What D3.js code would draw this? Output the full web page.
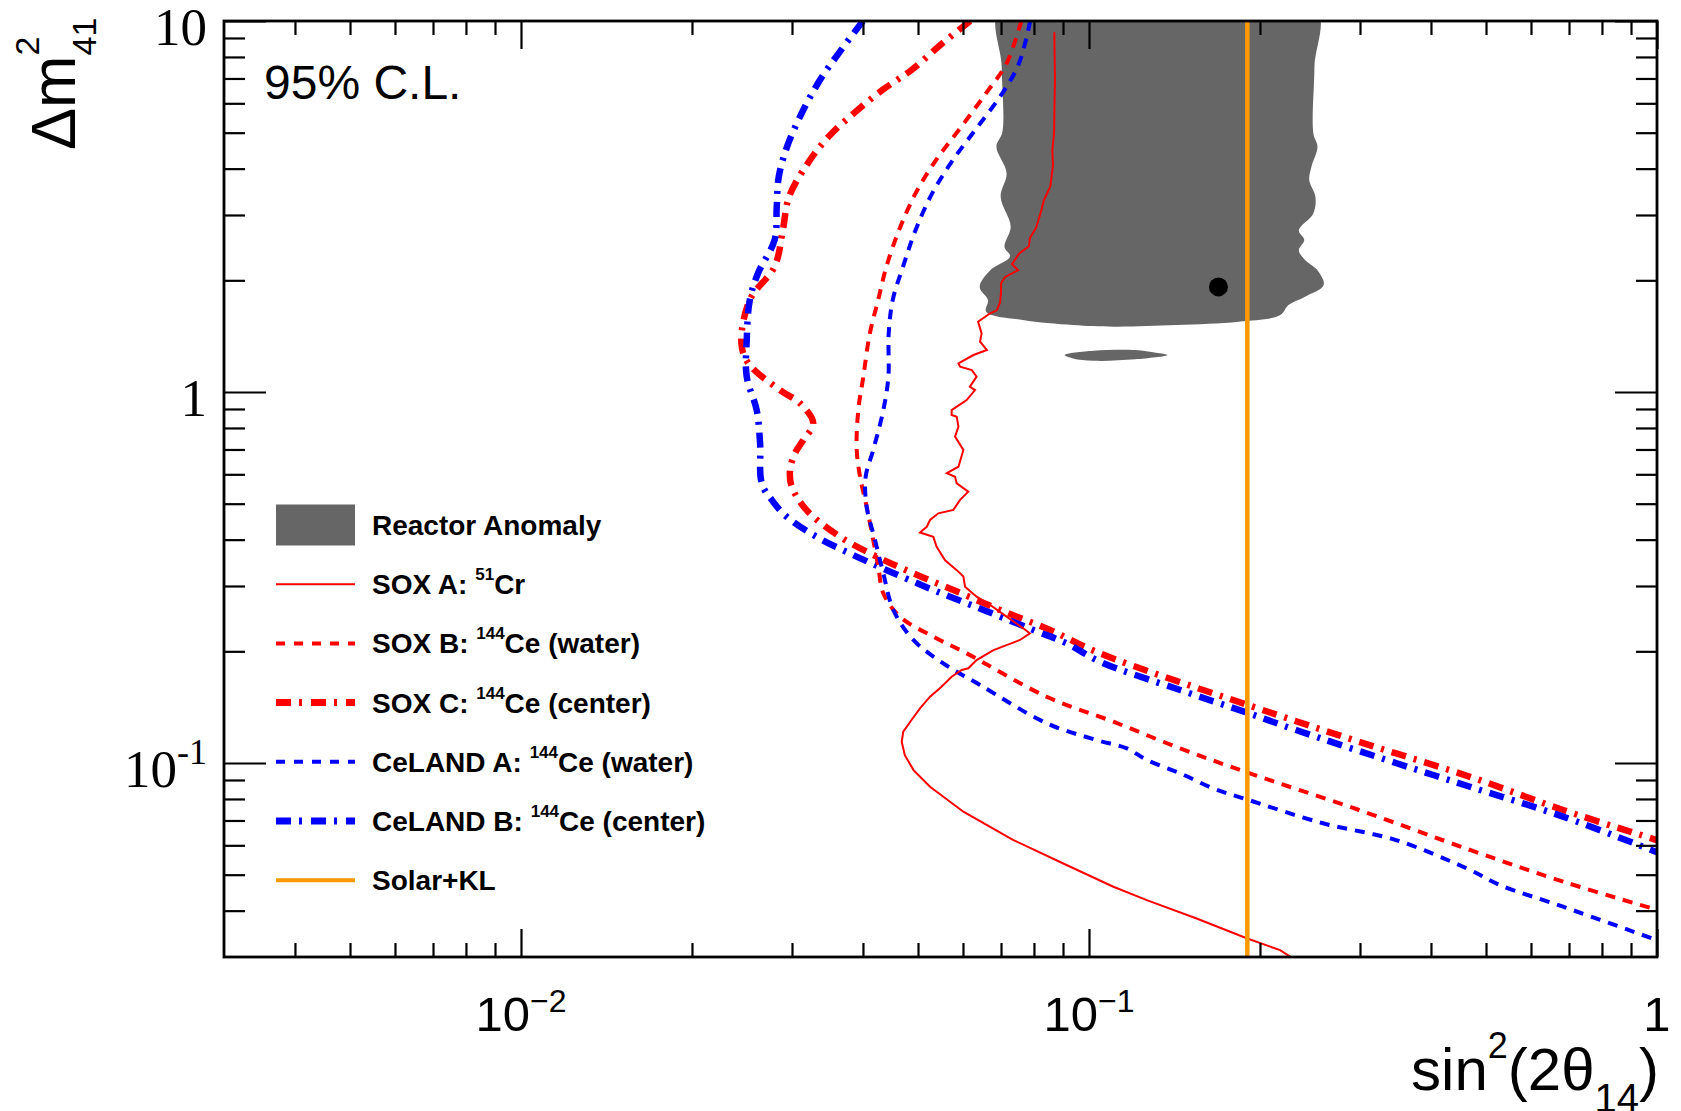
<!DOCTYPE html>
<html>
<head>
<meta charset="utf-8">
<script src="https://cdnjs.cloudflare.com/ajax/libs/d3/7.8.5/d3.min.js"></script>
<style>
    body { margin: 0; background: #fff; }
    svg { display: block; }
    text { white-space: pre; }
</style>
</head>
<body>
<div id="chart"></div>
<script>
// [sin^2(2theta14), dm2_41] pairs
var reactorAnomaly = [
    [0.0701, 11], [0.0702, 7.5], [0.0704, 5.03], [0.0687, 4.58], [0.0716, 3.89], [0.0699, 3.36],
    [0.0728, 2.79], [0.0710, 2.46], [0.0726, 2.32], [0.0670, 2.13], [0.0642, 1.92], [0.0664, 1.77],
    [0.0659, 1.646], [0.0765, 1.563], [0.0937, 1.515], [0.1107, 1.500], [0.1426, 1.515], [0.1835, 1.547],
    [0.2171, 1.612], [0.2245, 1.716], [0.2401, 1.807], [0.2589, 1.943], [0.2525, 2.13], [0.2401, 2.27],
    [0.2341, 2.41], [0.2393, 2.57], [0.2341, 2.73], [0.2483, 3.03], [0.2504, 3.36], [0.2442, 3.73],
    [0.2464, 4.05], [0.2525, 4.58], [0.2483, 4.98], [0.2494, 7.5], [0.2496, 11]
];

var reactorIsland = [
    [0.0906, 1.258], [0.1019, 1.292], [0.1206, 1.298], [0.1312, 1.276], [0.1375, 1.258],
    [0.1206, 1.225], [0.1019, 1.214], [0.0937, 1.232]
];

var bestFit = [0.169, 1.92];
var solarKL = 0.19;

var soxA = [
    [0.0869, 9.32], [0.0871, 6.93], [0.0868, 4.99], [0.0862, 4.49], [0.0864, 4.09], [0.0855, 3.58],
    [0.0833, 3.29], [0.0823, 3.06], [0.0807, 2.77], [0.0787, 2.60], [0.0784, 2.47], [0.0753, 2.36],
    [0.0732, 2.21], [0.0750, 2.13], [0.0711, 2.04], [0.0700, 1.96], [0.0700, 1.85], [0.0697, 1.74],
    [0.0688, 1.66], [0.0670, 1.63], [0.0638, 1.547], [0.0647, 1.439], [0.0643, 1.367], [0.0661, 1.298],
    [0.0626, 1.258], [0.0589, 1.195], [0.0593, 1.170], [0.0622, 1.146], [0.0634, 1.10], [0.0617, 1.033],
    [0.0630, 1.012], [0.0609, 0.951], [0.0573, 0.894], [0.0573, 0.867], [0.0585, 0.858], [0.0589, 0.806],
    [0.0581, 0.758], [0.0601, 0.698], [0.0589, 0.629], [0.0562, 0.604], [0.0581, 0.591], [0.0585, 0.567],
    [0.0613, 0.539], [0.0593, 0.512], [0.0577, 0.481], [0.0543, 0.471], [0.0525, 0.452], [0.0518, 0.433],
    [0.0504, 0.418], [0.0532, 0.407], [0.0539, 0.383], [0.0558, 0.352], [0.0585, 0.331], [0.0601, 0.318],
    [0.0605, 0.2987], [0.0634, 0.2807], [0.0670, 0.2666], [0.0716, 0.248], [0.0766, 0.2307], [0.0787, 0.2236],
    [0.0756, 0.2146], [0.0679, 0.2016], [0.0634, 0.1895], [0.0613, 0.180], [0.0597, 0.1781], [0.0573, 0.1708],
    [0.0550, 0.1606], [0.0525, 0.1509], [0.0504, 0.1404], [0.0487, 0.1306], [0.0471, 0.1215], [0.0468, 0.1141],
    [0.0474, 0.1050], [0.0491, 0.0957], [0.0525, 0.0863], [0.0601, 0.0739], [0.0736, 0.0620], [0.0901, 0.0536],
    [0.1104, 0.0464], [0.1264, 0.0427], [0.1547, 0.0381], [0.1895, 0.0337], [0.2170, 0.0313], [0.2353, 0.0289]
];

var soxB = [
    [0.0760, 10.0], [0.0716, 7.69], [0.0659, 6.39], [0.0596, 5.19], [0.0538, 4.22], [0.0495, 3.43],
    [0.0463, 2.73], [0.0440, 2.18], [0.04254, 1.77], [0.04113, 1.439], [0.04006, 1.10], [0.03925, 0.894],
    [0.0390, 0.698], [0.03953, 0.591], [0.0406, 0.491], [0.0417, 0.399], [0.04257, 0.338], [0.04344, 0.2867],
    [0.04648, 0.248], [0.0532, 0.219], [0.0609, 0.1975], [0.0842, 0.1509], [0.1104, 0.1292], [0.1447, 0.1095],
    [0.1895, 0.0944], [0.2988, 0.0747], [0.4686, 0.0583], [0.6833, 0.0479], [1.0, 0.0402]
];

var soxC = [
    [0.0618, 10.0], [0.0552, 8.71], [0.0487, 7.38], [0.0433, 6.52], [0.0388, 5.69], [0.0348, 4.88],
    [0.0320, 4.14], [0.02965, 3.36], [0.0289, 2.73], [0.02796, 2.18], [0.02528, 1.77], [0.02444, 1.353],
    [0.02513, 1.195], [0.02858, 1.012], [0.0310, 0.932], [0.0327, 0.823], [0.0314, 0.742], [0.03037, 0.684],
    [0.02976, 0.616], [0.02997, 0.556], [0.0318, 0.481], [0.03646, 0.407], [0.0423, 0.360], [0.04906, 0.3245],
    [0.0577, 0.2926], [0.0697, 0.2585], [0.0854, 0.2283], [0.1046, 0.1975], [0.1905, 0.1433], [0.2988, 0.1141],
    [0.4686, 0.0918], [0.6833, 0.0747], [1.0, 0.0620]
];

var celandA = [
    [0.0788, 10.0], [0.0753, 7.69], [0.0704, 6.39], [0.0637, 5.19], [0.0576, 4.22], [0.05295, 3.43],
    [0.0495, 2.73], [0.04707, 2.18], [0.04513, 1.77], [0.0444, 1.439], [0.04434, 1.10], [0.04344, 0.894],
    [0.0417, 0.698], [0.04044, 0.591], [0.0406, 0.491], [0.0420, 0.399], [0.04344, 0.3245], [0.04524, 0.2585],
    [0.04906, 0.2146], [0.0554, 0.1856], [0.0643, 0.1623], [0.0842, 0.1280], [0.1032, 0.1153], [0.1166, 0.1095],
    [0.1264, 0.1019], [0.1447, 0.0938], [0.1655, 0.0854], [0.1895, 0.0798], [0.2572, 0.0689], [0.347, 0.0620],
    [0.4686, 0.0515], [0.529, 0.0469], [0.6833, 0.0410], [1.0, 0.0333]
];

var celandB = [
    [0.0400, 10.0], [0.0366, 8.35], [0.0336, 6.93], [0.0312, 5.64], [0.0294, 4.58], [0.02843, 3.80],
    [0.0282, 3.16], [0.02796, 2.57], [0.02614, 2.09], [0.02528, 1.77], [0.02497, 1.38], [0.02497, 1.10],
    [0.0260, 0.894], [0.02636, 0.727], [0.02654, 0.567], [0.02763, 0.512], [0.02936, 0.461], [0.03316, 0.407],
    [0.03795, 0.367], [0.04404, 0.331], [0.0532, 0.2926], [0.0652, 0.2585], [0.0798, 0.2283], [0.0914, 0.210],
    [0.1046, 0.1875], [0.1447, 0.1573], [0.1905, 0.1364], [0.2314, 0.1227], [0.347, 0.100], [0.4686, 0.0863],
    [0.6833, 0.0717], [1.0, 0.0575]
];

var xDomain = [0.003, 1];
var yDomain = [0.03, 10];
var xMajorTicks = [0.01, 0.1, 1];
var xTickLabels = [["10", "\u22122"], ["10", "\u22121"], ["1", ""]];
var yMajorTicks = [0.1, 1, 10];
var yTickLabels = [["10", "-1"], ["1", ""], ["10", ""]];

var legendLabels = [
    ["Reactor Anomaly", "", ""],
    ["SOX A: ", "51", "Cr"],
    ["SOX B: ", "144", "Ce (water)"],
    ["SOX C: ", "144", "Ce (center)"],
    ["CeLAND A: ", "144", "Ce (water)"],
    ["CeLAND B: ", "144", "Ce (center)"],
    ["Solar+KL", "", ""]
];

function init() {
    var w = 1681;
    var h = 1111;
    var margin = { top: 21, right: 24, bottom: 154, left: 224 };
    var innerWidth = w - margin.left - margin.right;
    var innerHeight = h - margin.top - margin.bottom;

    var sans = "'Liberation Sans', Arial, Helvetica, sans-serif";
    var serif = "'Liberation Serif', 'Times New Roman', serif";

    var xScale = d3.scaleLog().domain(xDomain).range([0, innerWidth]);
    var yScale = d3.scaleLog().domain(yDomain).range([innerHeight, 0]);

    var root = d3.select("#chart")
        .append("svg")
        .attr("width", w)
        .attr("height", h)
        .style("background", "#fff");

    root.append("defs").append("clipPath")
        .attr("id", "plotclip")
        .append("rect")
        .attr("width", innerWidth)
        .attr("height", innerHeight);

    var svg = root.append("g")
        .attr("transform", "translate(" + margin.left + "," + margin.top + ")");

    var plot = svg.append("g").attr("clip-path", "url(#plotclip)");

    var area = d3.line()
        .x(function(d) { return xScale(d[0]); })
        .y(function(d) { return yScale(d[1]); })
        .curve(d3.curveCatmullRomClosed);

    plot.append("path")
        .attr("d", area(reactorAnomaly))
        .attr("fill", "#666666");
    plot.append("path")
        .attr("d", area(reactorIsland))
        .attr("fill", "#666666");

    var smooth = d3.line()
        .x(function(d) { return xScale(d[0]); })
        .y(function(d) { return yScale(d[1]); })
        .curve(d3.curveCatmullRom);
    var jagged = d3.line()
        .x(function(d) { return xScale(d[0]); })
        .y(function(d) { return yScale(d[1]); });

    var series = [
        { data: soxC, color: "#ff0000", width: 6.5, dash: "15,8,3,8", line: smooth },
        { data: celandB, color: "#0000ff", width: 6.5, dash: "15,8,3,8", line: smooth },
        { data: soxB, color: "#ff0000", width: 4, dash: "10,8", line: smooth },
        { data: celandA, color: "#0000ff", width: 4, dash: "10,8", line: smooth },
        { data: soxA, color: "#ff0000", width: 2, dash: null, line: jagged }
    ];

    plot.selectAll("path.curve")
        .data(series)
        .enter()
        .append("path")
        .attr("class", "curve")
        .attr("d", function(d) { return d.line(d.data); })
        .attr("fill", "none")
        .attr("stroke", function(d) { return d.color; })
        .attr("stroke-width", function(d) { return d.width; })
        .attr("stroke-dasharray", function(d) { return d.dash; });

    plot.append("line")
        .attr("x1", xScale(solarKL))
        .attr("x2", xScale(solarKL))
        .attr("y1", yScale(yDomain[0]))
        .attr("y2", yScale(yDomain[1]))
        .attr("stroke", "#ff9900")
        .attr("stroke-width", 4.5);

    plot.append("circle")
        .attr("cx", xScale(bestFit[0]))
        .attr("cy", yScale(bestFit[1]))
        .attr("r", 9.5)
        .attr("fill", "#000");

    // ticks on all four sides, pointing inwards
    function isDecade(v) {
        var l = Math.log10(v);
        return Math.abs(l - Math.round(l)) < 1e-6;
    }
    var xMinor = xScale.ticks().filter(function(d) { return !isDecade(d) && d > xDomain[0] * 1.01; });
    var yMinor = yScale.ticks().filter(function(d) { return !isDecade(d) && d > yDomain[0] * 1.01; });

    function drawTicks(axis, tx, ty) {
        var g = svg.append("g")
            .attr("transform", "translate(" + tx + "," + ty + ")")
            .call(axis);
        g.select(".domain").remove();
        g.selectAll(".tick line").attr("stroke", "#000").attr("stroke-width", 2.2);
    }
    drawTicks(d3.axisBottom(xScale).tickValues(xMinor).tickSize(-14).tickFormat(""), 0, innerHeight);
    drawTicks(d3.axisBottom(xScale).tickValues(xMajorTicks).tickSize(-28).tickFormat(""), 0, innerHeight);
    drawTicks(d3.axisTop(xScale).tickValues(xMinor).tickSize(-14).tickFormat(""), 0, 0);
    drawTicks(d3.axisTop(xScale).tickValues(xMajorTicks).tickSize(-28).tickFormat(""), 0, 0);
    drawTicks(d3.axisLeft(yScale).tickValues(yMinor).tickSize(-21).tickFormat(""), 0, 0);
    drawTicks(d3.axisLeft(yScale).tickValues(yMajorTicks).tickSize(-42).tickFormat(""), 0, 0);
    drawTicks(d3.axisRight(yScale).tickValues(yMinor).tickSize(-21).tickFormat(""), innerWidth, 0);
    drawTicks(d3.axisRight(yScale).tickValues(yMajorTicks).tickSize(-42).tickFormat(""), innerWidth, 0);

    svg.append("rect")
        .attr("width", innerWidth)
        .attr("height", innerHeight)
        .attr("fill", "none")
        .attr("stroke", "#000")
        .attr("stroke-width", 2.8);

    // tick labels
    var xl = svg.selectAll("text.xlab")
        .data(xMajorTicks)
        .enter()
        .append("text")
        .attr("class", "xlab")
        .attr("x", function(d) { return xScale(d); })
        .attr("y", innerHeight + 74)
        .attr("text-anchor", "middle")
        .style("font-family", sans)
        .style("font-size", "49px");
    xl.append("tspan").text(function(d, i) { return xTickLabels[i][0]; });
    xl.append("tspan")
        .attr("dy", -19)
        .style("font-size", "32px")
        .text(function(d, i) { return xTickLabels[i][1]; });

    var yl = svg.selectAll("text.ylab")
        .data(yMajorTicks)
        .enter()
        .append("text")
        .attr("class", "ylab")
        .attr("x", -17)
        .attr("y", function(d) { return yScale(d) + 24; })
        .attr("text-anchor", "end")
        .style("font-family", serif)
        .style("font-size", "53px");
    yl.append("tspan").text(function(d, i) { return yTickLabels[i][0]; });
    yl.append("tspan")
        .attr("dy", -23)
        .style("font-size", "36px")
        .text(function(d, i) { return yTickLabels[i][1]; });

    // axis titles
    var xt = root.append("text")
        .attr("x", 1659)
        .attr("y", 1090)
        .attr("text-anchor", "end")
        .style("font-family", sans)
        .style("font-size", "60px");
    xt.append("tspan").text("sin");
    xt.append("tspan").attr("dy", -32).style("font-size", "36px").text("2");
    xt.append("tspan").attr("dy", 32).text("(2\u03b8");
    xt.append("tspan").attr("dy", 22).style("font-size", "40px").text("14");
    xt.append("tspan").attr("dy", -22).text(")");

    var yt = root.append("text")
        .attr("transform", "translate(75,150) rotate(-90)")
        .style("font-family", sans)
        .style("font-size", "63px");
    yt.append("tspan").text("\u0394m");
    yt.append("tspan").attr("dy", -36).style("font-size", "34px").text("2");
    yt.append("tspan").attr("dx", -19).attr("dy", 57).style("font-size", "34px").text("41");

    root.append("text")
        .attr("x", 264)
        .attr("y", 99)
        .style("font-family", sans)
        .style("font-size", "48px")
        .text("95% C.L.");

    // legend
    var legendStyles = [
        { fill: "#666666" },
        { color: "#ff0000", width: 2, dash: null },
        { color: "#ff0000", width: 4, dash: "9,9" },
        { color: "#ff0000", width: 7, dash: "15,8,3,9" },
        { color: "#0000ff", width: 4, dash: "9,9" },
        { color: "#0000ff", width: 7, dash: "15,8,3,9" },
        { color: "#ff9900", width: 4, dash: null }
    ];
    var legend = root.append("g");
    var rows = legend.selectAll("g")
        .data(legendLabels)
        .enter()
        .append("g")
        .attr("transform", function(d, i) { return "translate(276," + (525 + i * 59.2) + ")"; });

    rows.each(function(d, i) {
        var s = legendStyles[i];
        var g = d3.select(this);
        if (s.fill) {
            g.append("rect")
                .attr("x", 0).attr("y", -20.5)
                .attr("width", 79).attr("height", 41)
                .attr("fill", s.fill);
        } else {
            g.append("line")
                .attr("x1", 0).attr("x2", 79)
                .attr("stroke", s.color)
                .attr("stroke-width", s.width)
                .attr("stroke-dasharray", s.dash);
        }
        var t = g.append("text")
            .attr("x", 96)
            .attr("y", 10)
            .style("font-family", sans)
            .style("font-weight", "bold")
            .style("font-size", "28px");
        t.append("tspan").text(d[0]);
        if (d[1]) {
            t.append("tspan").attr("dy", -14).style("font-size", "17px").text(d[1]);
            t.append("tspan").attr("dy", 14).text(d[2]);
        }
    });
}

window.onload = init;
</script>
</body>
</html>
